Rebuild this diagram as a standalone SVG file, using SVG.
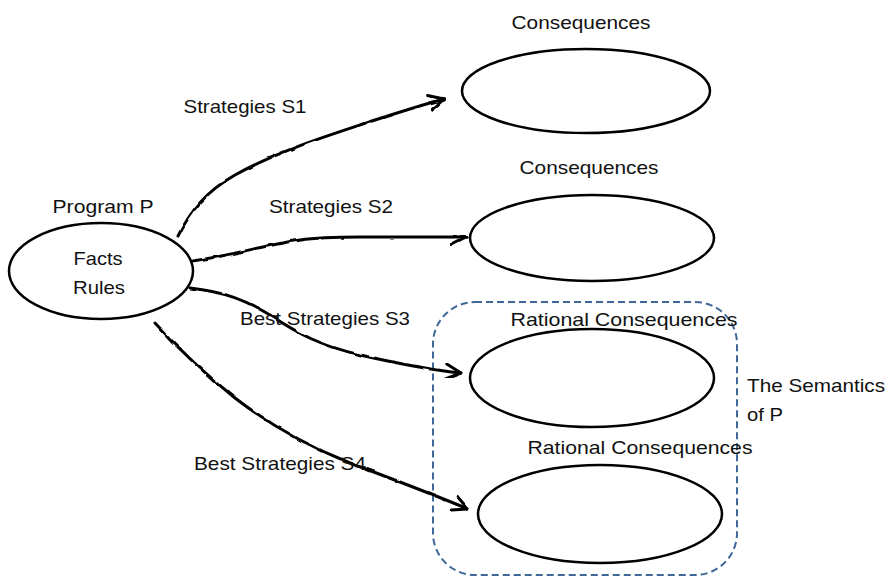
<svg xmlns="http://www.w3.org/2000/svg" width="890" height="576" viewBox="0 0 890 576">
<style>
text{font-family:"Liberation Sans",Arial,sans-serif;font-size:19px;fill:#111}
.node{fill:#fff;stroke:#000;stroke-width:2.5}
.conn{fill:none;stroke:#000;stroke-width:3;stroke-linecap:round;stroke-linejoin:round}
.box{fill:none;stroke:#3f6797;stroke-width:2;stroke-dasharray:7 4}
</style>
<defs>
<marker id="arr" viewBox="0 0 12 12" refX="11" refY="6" markerWidth="6" markerHeight="6" orient="auto" markerUnits="strokeWidth">
<path d="M1,1 L11,6 L1,11" fill="none" stroke="#000" stroke-width="2" stroke-linecap="round" stroke-linejoin="round"/>
</marker>
<filter id="rough" x="-5%" y="-5%" width="110%" height="110%">
<feTurbulence type="fractalNoise" baseFrequency="0.08" numOctaves="1" seed="3" result="n"/>
<feDisplacementMap in="SourceGraphic" in2="n" scale="3" xChannelSelector="R" yChannelSelector="G"/>
</filter>
</defs>
<g id="semantics">
<rect class="box" x="433" y="302" width="304" height="273" rx="42" ry="42"/>
<text x="747" y="392" textLength="138" lengthAdjust="spacingAndGlyphs">The Semantics</text>
<text x="747" y="421" textLength="36" lengthAdjust="spacingAndGlyphs">of P</text>
</g>
<g id="connectors">
<path class="conn" filter="url(#rough)" marker-end="url(#arr)" d="M178,236 C190,212 205,192 235,175 C280,150 330,135 375,120 C400,112 425,104 444,99"/>
<path class="conn" filter="url(#rough)" marker-end="url(#arr)" d="M192,261 C230,256 260,246 300,240 C320,237 340,237 360,237 L466,237"/>
<path class="conn" filter="url(#rough)" marker-end="url(#arr)" d="M190,288 C225,292 245,300 270,315 C300,335 320,345 360,355 C400,364 430,370 461,373"/>
<path class="conn" filter="url(#rough)" marker-end="url(#arr)" d="M155,323 C175,345 200,370 235,398 C270,425 310,447 350,463 C395,480 435,495 468,509"/>
</g>
<g id="program">
<ellipse class="node" cx="101" cy="271" rx="92" ry="48"/>
<text x="103" y="213" text-anchor="middle" textLength="101" lengthAdjust="spacingAndGlyphs">Program P</text>
<text x="98" y="265" text-anchor="middle" textLength="49" lengthAdjust="spacingAndGlyphs">Facts</text>
<text x="99" y="294" text-anchor="middle" textLength="52" lengthAdjust="spacingAndGlyphs">Rules</text>
</g>
<g id="cons1">
<ellipse class="node" cx="586" cy="91" rx="124" ry="42"/>
<text x="581" y="29" text-anchor="middle" textLength="139" lengthAdjust="spacingAndGlyphs">Consequences</text>
</g>
<g id="cons2">
<ellipse class="node" cx="592" cy="238" rx="122" ry="43"/>
<text x="589" y="174" text-anchor="middle" textLength="139" lengthAdjust="spacingAndGlyphs">Consequences</text>
</g>
<g id="rcons1">
<ellipse class="node" cx="592" cy="378" rx="122" ry="49"/>
<text x="624" y="326" text-anchor="middle" textLength="227" lengthAdjust="spacingAndGlyphs">Rational Consequences</text>
</g>
<g id="rcons2">
<ellipse class="node" cx="600" cy="514" rx="122" ry="49"/>
<text x="640" y="454" text-anchor="middle" textLength="225" lengthAdjust="spacingAndGlyphs">Rational Consequences</text>
</g>
<g id="labels">
<text x="245" y="113" text-anchor="middle" textLength="123" lengthAdjust="spacingAndGlyphs">Strategies S1</text>
<text x="331" y="213" text-anchor="middle" textLength="124" lengthAdjust="spacingAndGlyphs">Strategies S2</text>
<text x="325" y="325" text-anchor="middle" textLength="170" lengthAdjust="spacingAndGlyphs">Best Strategies S3</text>
<text x="280" y="470" text-anchor="middle" textLength="172" lengthAdjust="spacingAndGlyphs">Best Strategies S4</text>
</g>
</svg>
